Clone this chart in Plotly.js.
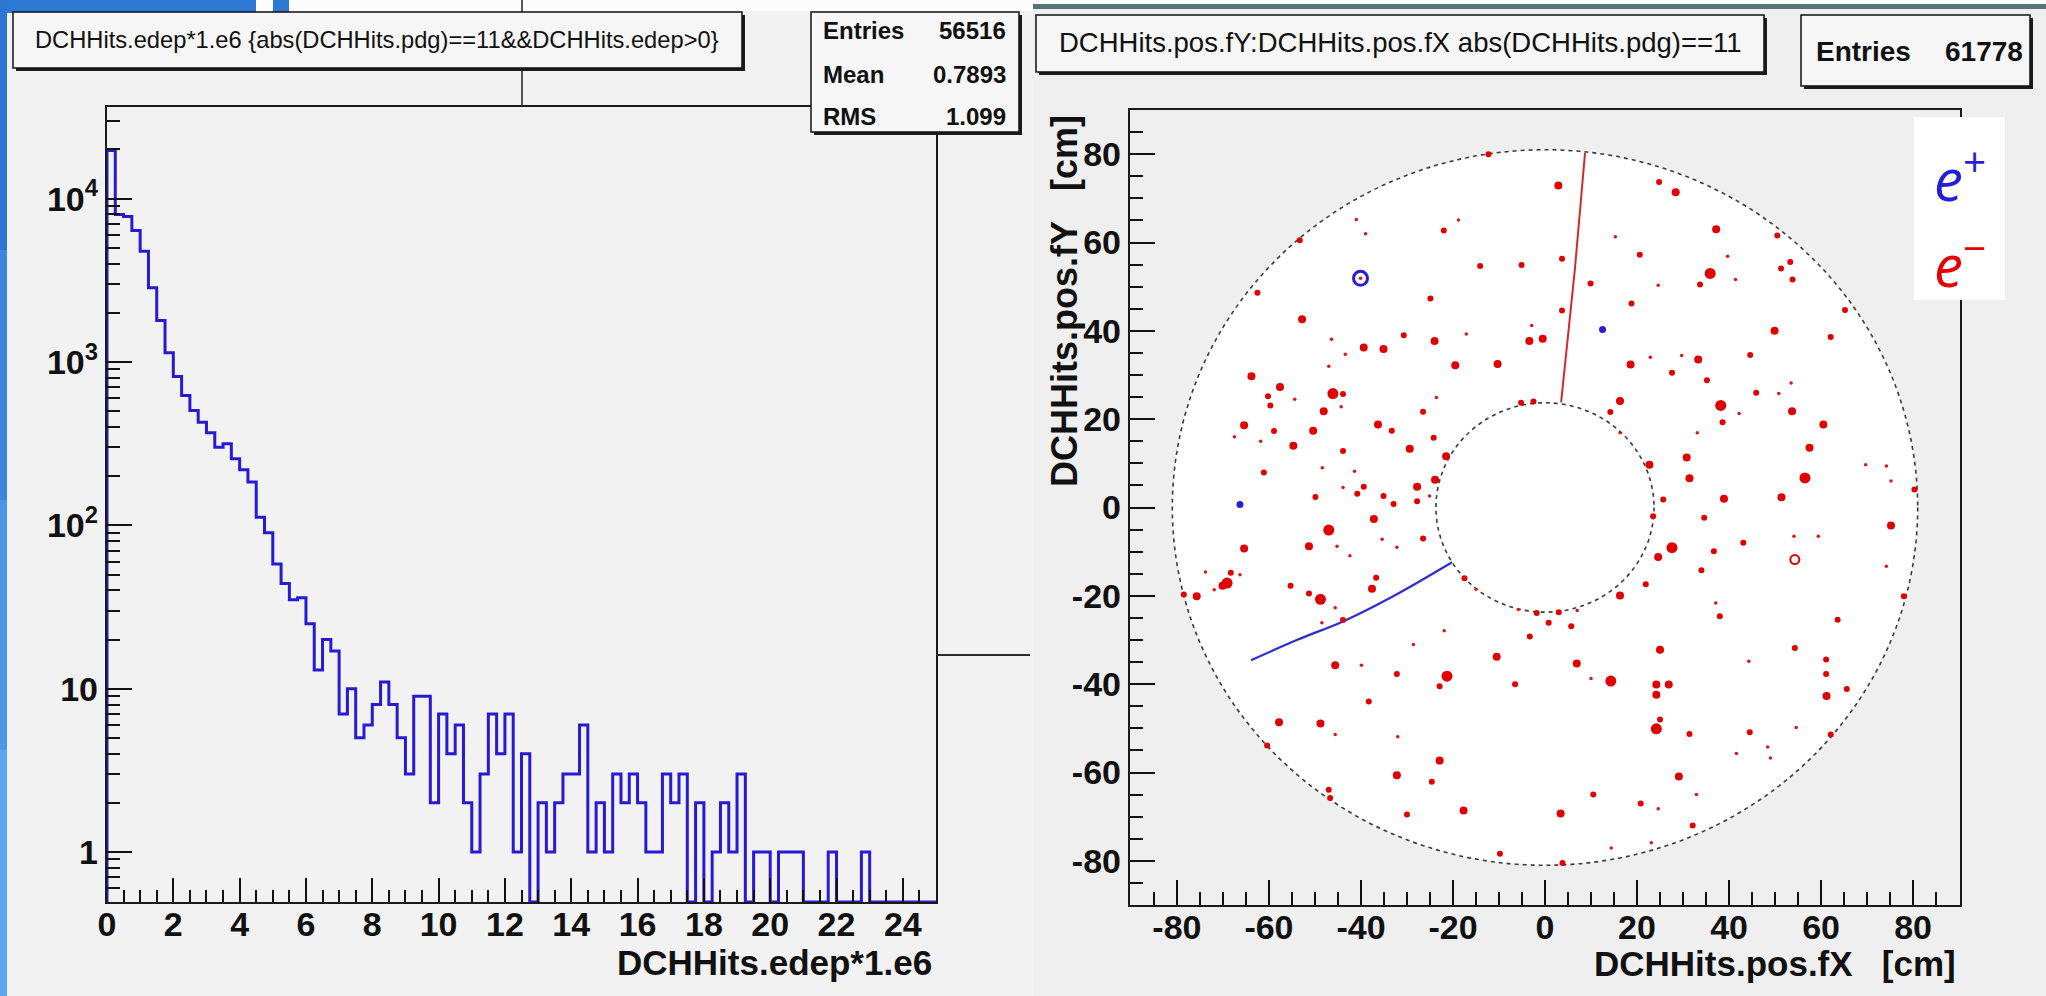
<!DOCTYPE html>
<html><head><meta charset="utf-8">
<script src="https://cdn.plot.ly/plotly-3.0.1.min.js"></script>
<style>html,body{margin:0;padding:0;background:#f2f2f2;}#chart{width:2046px;height:996px;}</style>
</head><body><div id="chart"></div>
<script>
// ---------------- DATA ----------------
// Left: DCHHits.edep*1.e6 histogram, 100 bins of 0.25 from 0 to 25
const edepBinWidth = 0.25;
const edepCounts = [
  19700, 7990, 7780, 6390, 4770, 2845, 1795, 1138, 815, 624,
  505, 428, 369, 301, 316, 256, 219, 184, 112, 90,
  58, 44, 35, 36, 25, 13, 20, 17, 7, 10,
  5, 6, 8, 11, 8, 5, 3, 9, 9, 2,
  7, 4, 6, 2, 1, 3, 7, 4, 7, 1,
  4, 0, 2, 1, 2, 3, 3, 6, 1, 2,
  1, 3, 2, 3, 2, 1, 1, 3, 2, 3,
  0, 2, 0, 1, 2, 1, 3, 0, 1, 1,
  0, 1, 1, 1, 0, 0, 0, 1, 0, 0,
  0, 1, 0, 0, 0, 0, 0, 0, 0, 0
];
const edepStats = {entries: '56516', mean: '0.7893', rms: '1.099'};
const edepLogTickVals = [1, 10, 100, 1000, 10000];
const edepLogTickText = ['1', '10', '10<sup>2</sup>', '10<sup>3</sup>', '10<sup>4</sup>'];

// Right: hit positions (cm), grouped by apparent cluster size
const redTinyX = [-41.0,-39.0,-18.8,-2.9,-46.4,-17.1,-43.4,-47.0,-54.4,-23.6,-44.3,-67.5,-61.8,-48.4,-41.4,-43.9,-25.1,-40.1,
  -35.4,-32.2,-45.2,-42.4,-73.8,-66.3,-71.9,-45.6,-48.5,-21.9,-28.6,-39.9,-45.6,-32.0,-5.8,-15.0,
  15.3,39.7,41.4,24.6,22.9,29.7,50.8,53.5,42.2,33.1,69.7,74.2,75.2,54.1,59.4,16.3,
  74.2,37.1,10.0,54.6,41.6,48.4,49.0,24.6,32.9,23.1,14.4,44.3,7.0];
const redTinyY = [65.2,62.0,65.1,41.2,38.1,39.3,34.7,32.0,24.5,24.9,22.8,16.0,15.0,9.0,8.2,4.5,2.6,51.9,
  -7.2,-9.0,-8.8,-10.9,-14.6,-15.2,-18.6,-22.7,-26.1,-27.9,-31.0,-35.7,-51.4,-51.9,-23.1,-18.5,
  61.3,56.9,51.6,50.3,34.0,34.4,25.8,28.2,21.3,16.9,9.7,9.4,6.0,-6.5,-6.5,16.9,
  -13.3,-21.6,-38.7,-49.8,-55.7,-54.2,-56.7,-68.2,-65.0,-75.9,-77.1,-34.8,-23.3];
const redSmallX = [-12.3,-22.0,-53.3,-14.1,-5.1,-62.5,-24.9,-30.7,-43.9,-60.2,-59.7,-26.5,-58.9,-33.3,-24.2,-43.9,-61.1,-39.4,-49.9,-40.8,-35.1,-27.8,-32.9,
  -26.5,-68.3,-78.5,-55.3,-51.3,-36.7,-43.9,-3.3,-32.2,-22.9,-6.5,-38.3,-60.4,-24.6,-47.0,-46.7,-30.0,-9.8,-1.8,-17.5,-5.2,-2.5,
  24.8,20.6,50.5,53.3,51.3,53.8,33.7,3.7,3.7,9.9,18.8,65.2,62.1,44.6,27.6,35.2,45.9,38.6,14.2,25.7,80.3,34.6,43.1,23.5,
  36.7,34.0,21.9,78.0,38.0,0.8,5.7,63.6,54.3,61.1,61.1,65.6,25.0,31.4,44.5,62.1,10.5,20.8,32.1,3.8,3.0];
const redSmallY = [80.0,62.7,60.5,54.7,54.9,48.6,47.3,39.0,25.7,25.2,23.1,21.7,17.3,17.4,15.8,12.8,7.9,4.7,2.4,3.1,2.6,1.4,0.8,
  -7.0,-14.8,-19.7,-17.7,-19.5,-15.9,-25.5,-29.2,-37.7,-40.5,-40.0,-43.9,-53.9,-62.1,-63.9,-65.8,-69.5,-78.4,-23.9,-16.0,23.7,24.0,
  73.7,57.2,61.6,55.6,54.1,51.6,50.5,56.3,44.6,50.7,46.2,44.7,38.6,34.5,30.5,28.8,26.0,19.3,21.6,1.8,4.1,-2.3,-8.0,-2.0,
  -9.9,-14.2,-17.4,-20.1,-24.6,-26.1,-26.9,-25.4,-31.8,-34.4,-37.7,-41.1,-48.0,-51.3,-50.9,-51.4,-65.0,-67.0,-72.0,-80.5,-23.7];
const redMedX = [-52.8,-24.0,-39.4,-35.1,-3.4,-19.5,-10.3,-63.8,-57.6,-48.1,-65.4,-50.4,-36.3,-54.7,-29.4,-21.5,-23.9,-27.8,
  -37.2,-65.4,-51.3,-70.1,-75.7,-37.6,-10.5,-45.6,-57.8,-48.8,-22.9,-32.2,-17.7,
  2.9,28.4,37.2,49.9,-0.5,18.6,33.3,53.7,60.5,16.3,57.5,30.8,31.4,51.4,38.9,75.2,22.7,
  24.6,16.3,25.0,6.9,24.2,26.9,24.2,61.2,29.1,3.4];
const redMedY = [42.6,37.7,36.2,35.9,37.7,32.2,32.5,29.7,27.3,21.8,18.6,17.4,18.8,14.0,13.3,11.6,6.3,4.7,
  -2.6,-9.3,-8.8,-17.7,-20.1,-18.4,-33.8,-35.7,-48.6,-48.9,-57.3,-60.6,-68.6,
  72.9,71.4,63.0,40.0,38.2,32.4,33.5,21.8,18.8,24.1,13.5,11.3,6.6,2.3,2.0,-4.1,9.7,
  -11.2,-19.9,-32.2,-35.3,-40.1,-40.1,-42.4,-42.7,-60.9,-69.3];
const redLargeX = [-46.1,-47.0,-69.1,-48.8,-21.3,35.9,38.2,56.5,27.6,14.3,24.2];
const redLargeY = [25.8,-5.1,-17.1,-20.8,-38.2,53.0,23.1,6.7,-9.1,-39.3,-50.1];
const redRingX = [54.3];
const redRingY = [-11.8];
const blueDotX = [-66.3, 12.5];
const blueDotY = [0.7, 40.3];
const blueRingX = [-40.1];
const blueRingY = [51.9];
const redTrackX = [3.5, 6.5, 8.7];
const redTrackY = [23.8, 54.0, 80.3];
const blueTrackX = [-20.2, -33.0, -43.9, -53.7, -63.9];
const blueTrackY = [-12.4, -20.1, -25.8, -29.9, -34.6];
const outerRadius = 81;
const innerRadius = 23.7;
const posEntries = '61778';
const posTicks = [-80, -60, -40, -20, 0, 20, 40, 60, 80];

// ---------------- LAYOUT HELPERS ----------------
const W = 2046, H = 996;
const X = p => p / W, Y = p => 1 - p / H;
const FONT = 'Liberation Sans, Arial, Helvetica, sans-serif';
const INK = '#111111';

// histogram as step line (zero bins drawn on the axis floor)
const yLogMin = -0.306, yLogMax = 4.561;
const yFloor = Math.pow(10, yLogMin);
const hx = [0], hy = [yFloor];
edepCounts.forEach((c, i) => { hx.push(i * edepBinWidth); hy.push(c > 0 ? c : yFloor); });
hx.push(edepCounts.length * edepBinWidth);
hy.push(yFloor);

const minorLog = [];
[0.1, 1, 10, 100, 1000, 10000].forEach(d => { for (let m = 2; m <= 9; m++) { const v = m * d; if (v > yFloor && v < Math.pow(10, yLogMax)) minorLog.push(v); } });

const traces = [
  {x: hx, y: hy, xaxis: 'x', yaxis: 'y', type: 'scatter', mode: 'lines', line: {shape: 'hv', color: 'rgb(38,26,210)', width: 3}, hoverinfo: 'skip'},
  {x: redTrackX, y: redTrackY, xaxis: 'x2', yaxis: 'y2', type: 'scatter', mode: 'lines', line: {color: 'rgb(215,40,40)', width: 2}},
  {x: blueTrackX, y: blueTrackY, xaxis: 'x2', yaxis: 'y2', type: 'scatter', mode: 'lines', line: {color: 'rgb(45,45,215)', width: 2.2, shape: 'spline'}},
  {x: redTinyX, y: redTinyY, xaxis: 'x2', yaxis: 'y2', type: 'scatter', mode: 'markers', marker: {color: 'rgb(225,20,20)', size: 3.5, line: {width: 0}}},
  {x: redSmallX, y: redSmallY, xaxis: 'x2', yaxis: 'y2', type: 'scatter', mode: 'markers', marker: {color: 'rgb(225,0,0)', size: 6, line: {width: 0}}},
  {x: redMedX, y: redMedY, xaxis: 'x2', yaxis: 'y2', type: 'scatter', mode: 'markers', marker: {color: 'rgb(225,0,0)', size: 8, line: {width: 0}}},
  {x: redLargeX, y: redLargeY, xaxis: 'x2', yaxis: 'y2', type: 'scatter', mode: 'markers', marker: {color: 'rgb(225,0,0)', size: 11, line: {width: 0}}},
  {x: redRingX, y: redRingY, xaxis: 'x2', yaxis: 'y2', type: 'scatter', mode: 'markers', marker: {symbol: 'circle-open', color: 'rgb(225,0,0)', size: 9, line: {width: 2}}},
  {x: blueRingX, y: blueRingY, xaxis: 'x2', yaxis: 'y2', type: 'scatter', mode: 'markers', marker: {symbol: 'circle-open', color: 'rgb(40,30,215)', size: 14, line: {width: 3}}},
  {x: blueDotX, y: blueDotY, xaxis: 'x2', yaxis: 'y2', type: 'scatter', mode: 'markers', marker: {color: 'rgb(40,30,215)', size: 7, line: {width: 0}}}
];

const tickFont = {family: FONT, size: 34, color: INK, weight: 'bold'};
const axisCommon = {showgrid: false, zeroline: false, showline: true, linecolor: '#1a1a1a', linewidth: 2.2, mirror: true,
  ticks: 'inside', tickcolor: INK, tickwidth: 2, tickfont: tickFont, fixedrange: true};

const layout = {
  width: W, height: H, margin: {l: 0, r: 0, t: 0, b: 0},
  paper_bgcolor: '#f2f2f2', plot_bgcolor: 'rgba(0,0,0,0)', showlegend: false,
  xaxis: Object.assign({}, axisCommon, {domain: [X(107), X(936)], anchor: 'y', range: [0, 25], tickmode: 'linear', tick0: 0, dtick: 2, ticklen: 24,
    ticklabelstandoff: -9,
    minor: {ticks: 'inside', dtick: 0.5, tick0: 0, ticklen: 12, tickwidth: 2, tickcolor: INK}}),
  yaxis: Object.assign({}, axisCommon, {domain: [Y(902), Y(107)], anchor: 'x', type: 'log', range: [yLogMin, yLogMax],
    tickmode: 'array', tickvals: edepLogTickVals, ticktext: edepLogTickText, ticklen: 25,
    minor: {ticks: 'inside', tickmode: 'array', tickvals: minorLog, ticklen: 13, tickwidth: 2, tickcolor: INK}}),
  xaxis2: Object.assign({}, axisCommon, {domain: [X(1130), X(1960)], anchor: 'y2', range: [-90.2, 90.2], tickmode: 'array', tickvals: posTicks,
    ticktext: posTicks.map(String), ticklen: 25, ticklabelstandoff: -9,
    minor: {ticks: 'inside', dtick: 5, tick0: 0, ticklen: 13, tickwidth: 2, tickcolor: INK}}),
  yaxis2: Object.assign({}, axisCommon, {domain: [Y(905), Y(110)], anchor: 'x2', range: [-90, 90], tickmode: 'array', tickvals: posTicks,
    ticktext: posTicks.map(String), ticklen: 25, minor: {ticks: 'inside', dtick: 5, tick0: 0, ticklen: 13, tickwidth: 2, tickcolor: INK}}),
  shapes: [], annotations: []
};

const shapes = layout.shapes, annotations = layout.annotations;
function rectPx(x0, y0, x1, y1, fill, lineColor, lineWidth, layer) {
  shapes.push({type: 'rect', xref: 'paper', yref: 'paper', x0: X(x0), x1: X(x1), y0: Y(y1), y1: Y(y0), fillcolor: fill,
    line: {color: lineColor || 'rgba(0,0,0,0)', width: lineWidth || 0}, layer: layer || 'above'});
}
function linePx(x0, y0, x1, y1, color, width, layer) {
  shapes.push({type: 'line', xref: 'paper', yref: 'paper', x0: X(x0), x1: X(x1), y0: Y(y0), y1: Y(y1), line: {color: color, width: width}, layer: layer || 'above'});
}
function textPx(x, y, text, font, opts) {
  annotations.push(Object.assign({xref: 'paper', yref: 'paper', x: X(x), y: Y(y), text: text, showarrow: false, xanchor: 'center', yanchor: 'middle',
    font: Object.assign({family: FONT, size: 22, color: INK}, font)}, opts || {}));
}

// backgrounds / slide decorations
rectPx(1033, 9, 2046, 996, '#efefef', null, 0, 'below');
rectPx(256, 0, 1033, 11, '#fcfcfc', null, 0, 'below');
rectPx(1033, 0, 2046, 4, '#fcfcfc', null, 0, 'below');
rectPx(1033, 4, 2046, 9, '#557379', null, 0, 'below');
rectPx(0, 0, 256, 13, '#2c78d4');
rectPx(273, 0, 289, 13, '#2c78d4');
rectPx(0, 0, 7, 250, '#2b77d3');
rectPx(0, 250, 7, 500, '#3a87dc');
rectPx(0, 500, 7, 750, '#4a97e6');
rectPx(0, 750, 7, 996, '#5aa6ef');

// right plot: detector circles
shapes.push({type: 'circle', xref: 'x2', yref: 'y2', x0: -outerRadius, x1: outerRadius, y0: -outerRadius, y1: outerRadius,
  fillcolor: '#ffffff', line: {color: '#3a3a3a', width: 1.6, dash: '4px,4px'}, layer: 'below'});
shapes.push({type: 'circle', xref: 'x2', yref: 'y2', x0: -innerRadius, x1: innerRadius, y0: -innerRadius, y1: innerRadius,
  fillcolor: 'rgba(0,0,0,0)', line: {color: '#3a3a3a', width: 1.6, dash: '4px,4px'}, layer: 'below'});

// left pad: title box, stats box, connector lines
linePx(522, 0, 522, 12, '#222', 1.5);
linePx(522, 68, 522, 107, '#222', 1.5);
rectPx(16, 15, 745, 71, '#1c1c1c');
rectPx(13, 12, 742, 68, '#f6f6f6', '#111', 1.5);
rectPx(814, 15, 1022, 135, '#1c1c1c');
rectPx(811, 12, 1019, 132, '#f6f6f6', '#111', 1.5);
linePx(936, 655, 1030, 655, '#2a2a2a', 2);

// right pad: title box, stats box, legend box
rectPx(1039, 18, 1767, 75, '#1c1c1c');
rectPx(1036, 15, 1764, 72, '#f6f6f6', '#111', 1.5);
rectPx(1804, 18, 2033, 89, '#1c1c1c');
rectPx(1801, 15, 2030, 86, '#f6f6f6', '#111', 1.5);
rectPx(1914, 117, 2005, 300, '#ffffff');

// texts
textPx(377, 40, 'DCHHits.edep*1.e6 {abs(DCHHits.pdg)==11&amp;&amp;DCHHits.edep&gt;0}', {size: 23.7});
const sBold = {size: 24, weight: 'bold'};
textPx(821, 31, 'Entries', sBold, {xanchor: 'left'});
textPx(1008, 31, edepStats.entries, sBold, {xanchor: 'right'});
textPx(821, 74, 'Mean', sBold, {xanchor: 'left'});
textPx(1008, 74, edepStats.mean, sBold, {xanchor: 'right'});
textPx(821, 116, 'RMS', sBold, {xanchor: 'left'});
textPx(1008, 116, edepStats.rms, sBold, {xanchor: 'right'});
textPx(1400, 43, 'DCHHits.pos.fY:DCHHits.pos.fX abs(DCHHits.pdg)==11', {size: 27.5});
textPx(1814, 52, 'Entries', {size: 28, weight: 'bold'}, {xanchor: 'left'});
textPx(2025, 52, posEntries, {size: 28, weight: 'bold'}, {xanchor: 'right'});
textPx(934, 962, 'DCHHits.edep*1.e6', {size: 35, weight: 'bold'}, {xanchor: 'right'});
textPx(1958, 963, 'DCHHits.pos.fX\u00a0\u00a0\u00a0[cm]', {size: 35, weight: 'bold'}, {xanchor: 'right'});
textPx(1064, 113, 'DCHHits.pos.fY\u00a0\u00a0\u00a0[cm]', {size: 36, weight: 'bold'}, {textangle: -90, yanchor: 'top'});
textPx(1960, 176, '<i>e</i><sup>+</sup>', {family: 'Open Sans, Noto Sans, sans-serif', size: 58, color: 'rgb(35,30,215)'});
textPx(1960, 262, '<i>e</i><sup>\u2212</sup>', {family: 'Open Sans, Noto Sans, sans-serif', size: 58, color: 'rgb(228,0,0)'});

Plotly.newPlot('chart', traces, layout, {staticPlot: true, displayModeBar: false});
</script></body></html>
